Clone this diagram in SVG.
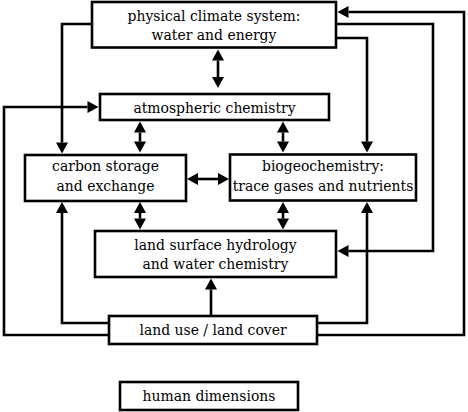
<svg xmlns="http://www.w3.org/2000/svg" width="468" height="412" viewBox="0 0 468 412">
<style>
.box{fill:#fff;stroke:#000;stroke-width:2.6}
.t{font-family:"DejaVu Serif Condensed","DejaVu Serif",serif;font-stretch:condensed;font-size:15.5px;fill:#000;text-anchor:middle}
.c{fill:none;stroke:#000;stroke-width:2.6}
.a{marker-end:url(#ah)}
.d{marker-start:url(#ah);marker-end:url(#ah)}
</style>
<defs>
<marker id="ah" markerUnits="userSpaceOnUse" markerWidth="12" markerHeight="13" refX="0" refY="6" orient="auto-start-reverse" overflow="visible">
<path d="M0,0 L11,6 L0,12 z" fill="#000"/>
</marker>
</defs>
<rect width="468" height="412" fill="#fff"/>
<g id="connectors">
<path class="c a" d="M92,24 H62 V142.5"/>
<path class="c d" d="M218,60.5 V77"/>
<path class="c a" d="M109,335 H4 V107 H87.5"/>
<path class="c d" d="M140,132.5 V141.5"/>
<path class="c d" d="M283,132.5 V141.5"/>
<path class="c a" d="M336,24 H433 V251 H348.5"/>
<path class="c a" d="M317,335 H464 V12 H348.5"/>
<path class="c a" d="M336,38 H367 V141.5"/>
<path class="c d" d="M198,179 H218"/>
<path class="c d" d="M140,213 V218.5"/>
<path class="c d" d="M283,213 V218.5"/>
<path class="c a" d="M109,323 H62 V213"/>
<path class="c a" d="M317,323 H367 V213"/>
<path class="c a" d="M211,316 V289.5"/>
</g>
<g id="physical"><rect class="box" x="92" y="2" width="244" height="45.5"/><text class="t" x="214" y="21">physical climate system:</text><text class="t" x="214" y="40">water and energy</text></g>
<g id="atmospheric"><rect class="box" x="100" y="94" width="229" height="26"/><text class="t" x="214.5" y="113">atmospheric chemistry</text></g>
<g id="carbon"><rect class="box" x="25" y="155" width="161" height="46"/><text class="t" x="105.5" y="171">carbon storage</text><text class="t" x="105.5" y="191">and exchange</text></g>
<g id="biogeochemistry"><rect class="box" x="230" y="154.5" width="186" height="46"/><text class="t" x="323" y="171">biogeochemistry:</text><text class="t" x="323" y="191">trace gases and nutrients</text></g>
<g id="hydrology"><rect class="box" x="95" y="231" width="241" height="46"/><text class="t" x="215.5" y="250">land surface hydrology</text><text class="t" x="215.5" y="269">and water chemistry</text></g>
<g id="landuse"><rect class="box" x="109" y="316" width="208" height="28"/><text class="t" x="213" y="335">land use / land cover</text></g>
<g id="human"><rect class="box" x="120" y="382" width="178" height="28"/><text class="t" x="209" y="401">human dimensions</text></g>
</svg>
